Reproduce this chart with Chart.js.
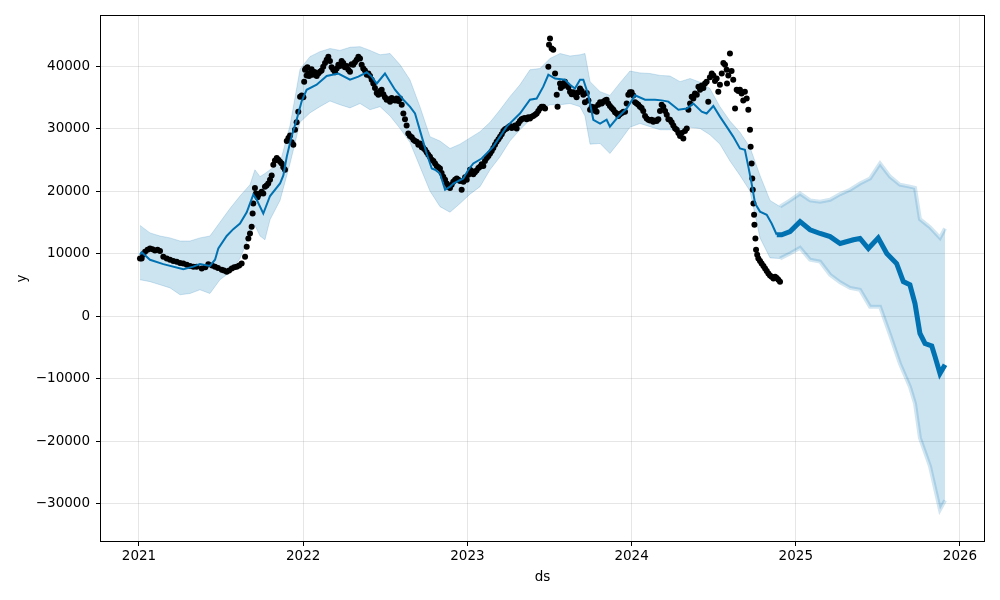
<!DOCTYPE html>
<html>
<head>
<meta charset="utf-8">
<script src="https://cdn.jsdelivr.net/npm/chart.js@4/dist/chart.umd.min.js"></script>
<style>
  html, body { margin: 0; padding: 0; background: #fff; }
  #wrap { width: 1000px; height: 600px; }
</style>
</head>
<body>
<div id="wrap"><canvas id="forecast" width="1000" height="600"></canvas></div>
<script>
// observed points (ds as decimal year, y)
var obsDs = [
  2021.006, 2021.016, 2021.024, 2021.037, 2021.052, 2021.067, 2021.082, 2021.097, 2021.113, 2021.128,
  2021.148, 2021.169, 2021.189, 2021.209, 2021.230, 2021.250, 2021.270, 2021.291, 2021.311, 2021.331,
  2021.351, 2021.382, 2021.404, 2021.422, 2021.445, 2021.463, 2021.481, 2021.504, 2021.518, 2021.534,
  2021.549, 2021.565, 2021.580, 2021.595, 2021.610, 2021.625, 2021.646, 2021.656, 2021.666, 2021.676,
  2021.686, 2021.692, 2021.696, 2021.706, 2021.712, 2021.722, 2021.727, 2021.737, 2021.747, 2021.757,
  2021.767, 2021.777, 2021.787, 2021.798, 2021.808, 2021.818, 2021.828, 2021.839, 2021.849, 2021.859,
  2021.869, 2021.879, 2021.889, 2021.900, 2021.910, 2021.920, 2021.930, 2021.940, 2021.950, 2021.960,
  2021.970, 2021.981, 2021.991, 2022.001, 2022.006, 2022.011, 2022.016, 2022.021, 2022.026, 2022.031,
  2022.036, 2022.041, 2022.051, 2022.057, 2022.062, 2022.072, 2022.082, 2022.092, 2022.102, 2022.112,
  2022.122, 2022.133, 2022.143, 2022.153, 2022.163, 2022.173, 2022.183, 2022.194, 2022.204, 2022.214,
  2022.224, 2022.234, 2022.244, 2022.254, 2022.265, 2022.275, 2022.285, 2022.295, 2022.305, 2022.315,
  2022.326, 2022.336, 2022.346, 2022.356, 2022.366, 2022.376, 2022.387, 2022.397, 2022.407, 2022.417,
  2022.427, 2022.437, 2022.448, 2022.458, 2022.468, 2022.478, 2022.488, 2022.498, 2022.508, 2022.518,
  2022.529, 2022.539, 2022.549, 2022.559, 2022.569, 2022.580, 2022.590, 2022.600, 2022.610, 2022.620,
  2022.630, 2022.640, 2022.650, 2022.661, 2022.671, 2022.681, 2022.691, 2022.701, 2022.711, 2022.722,
  2022.732, 2022.742, 2022.752, 2022.762, 2022.772, 2022.783, 2022.793, 2022.803, 2022.813, 2022.823,
  2022.833, 2022.843, 2022.853, 2022.864, 2022.874, 2022.884, 2022.894, 2022.904, 2022.914, 2022.925,
  2022.935, 2022.945, 2022.955, 2022.965, 2022.976, 2022.986, 2022.996, 2023.006, 2023.016, 2023.026,
  2023.036, 2023.046, 2023.056, 2023.067, 2023.077, 2023.087, 2023.097, 2023.107, 2023.118, 2023.128,
  2023.138, 2023.148, 2023.158, 2023.168, 2023.178, 2023.189, 2023.199, 2023.209, 2023.219, 2023.229,
  2023.239, 2023.249, 2023.259, 2023.270, 2023.280, 2023.290, 2023.300, 2023.310, 2023.320, 2023.330,
  2023.340, 2023.351, 2023.361, 2023.371, 2023.381, 2023.391, 2023.401, 2023.412, 2023.422, 2023.432,
  2023.442, 2023.452, 2023.462, 2023.473, 2023.493, 2023.497, 2023.503, 2023.513, 2023.523, 2023.534,
  2023.544, 2023.549, 2023.564, 2023.569, 2023.574, 2023.584, 2023.594, 2023.604, 2023.615, 2023.625,
  2023.635, 2023.645, 2023.655, 2023.665, 2023.676, 2023.686, 2023.696, 2023.706, 2023.716, 2023.727,
  2023.737, 2023.747, 2023.757, 2023.767, 2023.777, 2023.787, 2023.797, 2023.808, 2023.818, 2023.828,
  2023.838, 2023.848, 2023.858, 2023.868, 2023.879, 2023.889, 2023.899, 2023.909, 2023.919, 2023.929,
  2023.940, 2023.950, 2023.960, 2023.970, 2023.980, 2023.990, 2024.000, 2024.010, 2024.021, 2024.031,
  2024.041, 2024.051, 2024.061, 2024.071, 2024.082, 2024.092, 2024.102, 2024.112, 2024.122, 2024.132,
  2024.143, 2024.153, 2024.163, 2024.173, 2024.183, 2024.193, 2024.204, 2024.214, 2024.224, 2024.234,
  2024.244, 2024.254, 2024.265, 2024.275, 2024.285, 2024.295, 2024.305, 2024.315, 2024.325, 2024.336,
  2024.346, 2024.356, 2024.366, 2024.376, 2024.386, 2024.397, 2024.407, 2024.417, 2024.427, 2024.437,
  2024.447, 2024.457, 2024.467, 2024.477, 2024.488, 2024.498, 2024.508, 2024.518, 2024.528, 2024.538,
  2024.549, 2024.559, 2024.569, 2024.579, 2024.581, 2024.589, 2024.599, 2024.609, 2024.619, 2024.630,
  2024.640, 2024.650, 2024.660, 2024.670, 2024.680, 2024.690, 2024.701, 2024.711, 2024.721, 2024.725,
  2024.731, 2024.735, 2024.738, 2024.742, 2024.746, 2024.748, 2024.754, 2024.758, 2024.765, 2024.772,
  2024.782, 2024.792, 2024.803, 2024.813, 2024.823, 2024.833, 2024.843, 2024.853, 2024.864, 2024.874,
  2024.884, 2024.894, 2024.904];
var obsY = [
  9200, 9200, 9800, 10300, 10600, 10800, 10700, 10500, 10600, 10400,
  9500, 9200, 9000, 8800, 8700, 8500, 8400, 8200, 8000, 7900,
  7900, 7600, 7800, 8300, 8100, 7900, 7700, 7400, 7300, 7100,
  7300, 7600, 7800, 7900, 8100, 8400, 9500, 11100, 12400, 13200,
  14300, 16400, 18000, 20500, 19600, 19000, 19400, 19600, 19900, 19600,
  20700, 20900, 21200, 21800, 22500, 24200, 24900, 25300, 25000, 24700,
  24400, 23800, 23400, 28000, 28500, 28900, 27800, 27400, 29800, 31000,
  32700, 35100, 35300, 35000, 37500, 39400, 39600, 38500, 39800, 38800,
  38400, 38900, 39500, 38600, 39100, 39000, 38400, 38800, 39100, 39300,
  39900, 40500, 41000, 41500, 40800, 39800, 39400, 39000, 39600, 40200,
  40000, 40800, 40500, 39800, 40000, 39400, 39100, 40300, 40200, 40600,
  41000, 41500, 41200, 40200, 39600, 39300, 38600, 38800, 38400, 37800,
  37200, 36500, 35700, 35400, 36000, 36200, 35500, 35000, 34600, 34700,
  34300, 34900, 34600, 34500, 34800, 34400, 34800, 33800, 32400, 31500,
  30500, 29200, 28800, 28600, 28200, 28000, 27900, 27400, 27600, 27000,
  26900, 26600, 26200, 25800, 25500, 25000, 24800, 24400, 24000, 23800,
  23600, 22900, 22300, 21800, 21200, 20700, 20500, 21000, 21500, 21800,
  22000, 21800, 21600, 20200, 21500, 22200, 21800, 22600, 23400, 23200,
  22700, 23000, 23300, 23700, 23900, 24300, 24000, 24800, 25300, 25600,
  26000, 26400, 26900, 27400, 27900, 28300, 28700, 29100, 29600, 29900,
  30000, 30200, 30400, 30100, 30300, 30500, 30000, 30800, 31200, 31500,
  31600, 31700, 31500, 31800, 31600, 31900, 32000, 32200, 32400, 32800,
  33200, 33500, 33500, 33200, 39900, 43400, 44400, 42800, 42600, 38800,
  35400, 33500, 37200, 36500, 37000, 36800, 37500, 37000, 36600, 35900,
  35500, 35800, 35400, 35000, 35800, 36400, 36000, 35400, 34200, 35700,
  34500, 33000, 33500, 32900, 33400, 32700, 33800, 34200, 34000, 34300,
  34500, 34600, 34000, 33600, 33300, 33000, 32600, 32400, 32000, 32300,
  32500, 32700, 32700, 34000, 35400, 35800, 35800, 35300, 34200, 34000,
  33800, 33500, 33300, 32800, 32000, 31600, 31400, 31300, 31400, 31100,
  31300, 31200, 31500, 32800, 33800, 33500, 32800, 32200, 31500, 31400,
  31000, 30500, 30000, 29800, 29300, 28800, 29300, 28400, 29600, 30000,
  33000, 34000, 35100, 34800, 35600, 35400, 36700, 36200, 36900, 36500,
  37200, 37500, 34300, 38200, 38800, 38500, 37600, 38000, 35900, 37000,
  38800, 40500, 40200, 39400, 37200, 38500, 42000, 39200, 37800, 33200,
  36200, 36000, 36200, 35600, 34500, 35900, 34800, 33000, 29800, 27100,
  24400, 22000, 20200, 18000, 16200, 14600, 12400, 10600, 9800, 9200,
  8800, 8400, 8000, 7600, 7200, 6800, 6500, 6300, 6000, 6300,
  6100, 5800, 5500];

// fitted / forecast yhat
var fitDs = [2021.006, 2021.016, 2021.067, 2021.148, 2021.270, 2021.331, 2021.371, 2021.432, 2021.463, 2021.483,
  2021.534, 2021.574, 2021.615, 2021.656, 2021.696, 2021.717, 2021.757, 2021.798, 2021.859, 2021.879,
  2021.900, 2021.930, 2021.960, 2021.991, 2022.021, 2022.082, 2022.143, 2022.214, 2022.285, 2022.336,
  2022.387, 2022.417, 2022.448, 2022.498, 2022.559, 2022.610, 2022.650, 2022.681, 2022.722, 2022.752,
  2022.783, 2022.803, 2022.833, 2022.864, 2022.894, 2022.914, 2022.975, 2023.006, 2023.036, 2023.087,
  2023.158, 2023.239, 2023.320, 2023.381, 2023.422, 2023.462, 2023.493, 2023.534, 2023.594, 2023.625,
  2023.655, 2023.686, 2023.706, 2023.736, 2023.767, 2023.808, 2023.848, 2023.868, 2023.909, 2023.970,
  2024.021, 2024.082, 2024.143, 2024.183, 2024.224, 2024.285, 2024.336, 2024.376, 2024.427, 2024.457,
  2024.498, 2024.538, 2024.579, 2024.619, 2024.660, 2024.690, 2024.711, 2024.731, 2024.752, 2024.782,
  2024.823, 2024.853, 2024.884, 2024.914, 2024.965, 2025.026, 2025.087, 2025.148, 2025.209, 2025.270,
  2025.351, 2025.391, 2025.442, 2025.502, 2025.554, 2025.614, 2025.655, 2025.695, 2025.726, 2025.756,
  2025.787, 2025.828, 2025.848, 2025.878, 2025.909];
var fitY = [9800, 10200, 9000, 8300, 7500, 7900, 8300, 8000, 9000, 10800,
  12800, 13900, 14800, 16600, 19400, 18600, 16400, 19200, 21200, 22500,
  25500, 28800, 31400, 34400, 36200, 37000, 38400, 38800, 37800, 38300,
  39000, 38300, 37200, 38800, 36200, 34600, 33500, 32400, 28700, 26000,
  23600, 23400, 22800, 20200, 20700, 21200, 22000, 23400, 24400, 25200,
  27100, 30300, 32400, 34600, 34800, 36700, 38600, 38000, 37800, 37000,
  36400, 37800, 37800, 35400, 31400, 30800, 31400, 30300, 31600, 33200,
  35300, 34600, 34600, 34500, 34300, 33000, 33200, 34000, 32700, 32400,
  33600, 31900, 30300, 28700, 26800, 26600, 23900, 21200, 18000, 16700,
  16200, 14800, 13000, 13000, 13500, 15100, 13800, 13200, 12700, 11600,
  12200, 12400, 10800, 12500, 10000, 8400, 5500, 5000, 2000, -2800,
  -4400, -4800, -6500, -9200, -7800];

// uncertainty interval
var bandDs = [2021.006, 2021.067, 2021.128, 2021.189, 2021.250, 2021.311, 2021.371, 2021.432, 2021.493, 2021.554,
  2021.615, 2021.676, 2021.706, 2021.737, 2021.767, 2021.798, 2021.859, 2021.920, 2021.981, 2022.041,
  2022.102, 2022.163, 2022.224, 2022.285, 2022.346, 2022.407, 2022.468, 2022.529, 2022.590, 2022.650,
  2022.711, 2022.772, 2022.833, 2022.894, 2022.955, 2023.016, 2023.077, 2023.138, 2023.199, 2023.259,
  2023.320, 2023.381, 2023.442, 2023.503, 2023.564, 2023.625, 2023.686, 2023.716, 2023.747, 2023.808,
  2023.868, 2023.929, 2023.990, 2024.051, 2024.112, 2024.173, 2024.234, 2024.295, 2024.356, 2024.417,
  2024.477, 2024.538, 2024.599, 2024.660, 2024.721, 2024.782, 2024.843, 2024.904, 2024.965, 2025.026,
  2025.087, 2025.148, 2025.209, 2025.270, 2025.331, 2025.391, 2025.452, 2025.513, 2025.574, 2025.634,
  2025.695, 2025.726, 2025.756, 2025.817, 2025.878, 2025.909];
var bandUpper = [14500, 13300, 12800, 12500, 12000, 12000, 12500, 12800, 15000, 17200,
  19200, 21000, 23400, 22300, 22800, 23400, 24500, 30500, 39500, 41500,
  42300, 42800, 42500, 43000, 43100, 42500, 41800, 42000, 40200, 37800,
  33500, 28700, 28000, 26800, 27500, 28500, 29500, 31000, 33000, 35100,
  37000, 39400, 39600, 41200, 42000, 41600, 41800, 42000, 37500, 35900,
  35300, 37300, 39200, 38900, 38800, 38500, 38400, 37500, 38000, 37400,
  36400, 33500, 31200, 29400, 27000, 22500, 18500, 17500, 18500, 19600,
  18500, 18300, 18600, 19500, 20200, 21200, 22000, 24400, 22300, 21000,
  20700, 20500, 15500, 14200, 12500, 14000];
var bandLower = [5800, 5500, 5000, 4500, 3400, 3600, 4200, 3600, 5800, 7000,
  9200, 13000, 14500, 12800, 12200, 15400, 18500, 24400, 31000, 32500,
  33500, 34400, 33800, 33300, 34000, 33000, 33500, 32000, 30000, 27800,
  23900, 20000, 17500, 16600, 18000, 19500, 20700, 23400, 25500, 28000,
  29800, 31400, 33000, 33800, 33800, 34000, 33500, 32000, 27500, 27600,
  26000, 28000, 30200, 30800, 30300, 29800, 29800, 29800, 30200, 30000,
  29000, 27500, 24800, 22500, 20000, 12500, 9300, 9200, 10000, 10900,
  9000, 8700, 6600, 5400, 4500, 4200, 1500, 1500, -3000, -7600,
  -11300, -14000, -19500, -24000, -31000, -29500];

var xTickYears = [2021, 2022, 2023, 2024, 2025, 2026];
var yTickValues = [-30000, -20000, -10000, 0, 10000, 20000, 30000, 40000];
var forecastStart = 2024.884;

function toPoints(xs, ys) {
  return xs.map(function (x, i) { return { x: x, y: ys[i] }; });
}

// matplotlib style frame around the plot area
var frameBox = {
  id: "frameBox",
  afterDraw: function (chart) {
    var a = chart.chartArea;
    var ctx = chart.ctx;
    ctx.save();
    ctx.strokeStyle = "#000";
    ctx.lineWidth = 1;
    ctx.strokeRect(a.left + 0.5, a.top + 0.5, a.right - a.left - 1, a.bottom - a.top - 1);
    ctx.restore();
  }
};

Chart.defaults.font.family = "'DejaVu Sans', sans-serif";
Chart.defaults.font.size = 13.5;
Chart.defaults.color = "#000";

var gridColor = "rgba(128,128,128,0.2)";

new Chart("forecast", {
  type: "line",
  data: {
    datasets: [
      {
        label: "yhat",
        data: toPoints(fitDs, fitY),
        borderColor: "#0072B2",
        borderWidth: 2,
        pointRadius: 0,
        fill: false,
        tension: 0,
        segment: {
          borderWidth: function (ctx) { return ctx.p0.parsed.x >= forecastStart ? 5 : 2; }
        }
      },
      {
        label: "y",
        data: toPoints(obsDs, obsY),
        showLine: false,
        pointRadius: 3,
        pointBackgroundColor: "#000",
        pointBorderWidth: 0,
        borderColor: "#000"
      },
      {
        label: "upper",
        data: toPoints(bandDs, bandUpper),
        borderColor: "rgba(0,114,178,0.18)",
        borderWidth: 1,
        pointRadius: 0,
        fill: false,
        segment: {
          borderWidth: function (ctx) { return ctx.p0.parsed.x >= forecastStart ? 4 : 1; }
        }
      },
      {
        label: "lower",
        data: toPoints(bandDs, bandLower),
        borderColor: "rgba(0,114,178,0.18)",
        borderWidth: 1,
        pointRadius: 0,
        backgroundColor: "rgba(0,114,178,0.2)",
        fill: "-1",
        segment: {
          borderWidth: function (ctx) { return ctx.p0.parsed.x >= forecastStart ? 4 : 1; }
        }
      }
    ]
  },
  options: {
    responsive: false,
    animation: false,
    layout: { padding: { left: 0, top: 15, right: 15, bottom: 0 } },
    plugins: {
      legend: { display: false },
      tooltip: { enabled: false }
    },
    scales: {
      x: {
        type: "linear",
        min: 2020.7625,
        max: 2026.1523,
        afterBuildTicks: function (axis) {
          axis.ticks = xTickYears.map(function (v) { return { value: v }; });
        },
        afterFit: function (axis) { axis.height = 58; },
        ticks: {
          padding: 2,
          maxRotation: 0,
          autoSkip: false,
          callback: function (v) { return String(v); }
        },
        grid: { color: gridColor, tickColor: "#000", tickLength: 4, lineWidth: 1 },
        border: { display: false },
        title: { display: true, text: "ds", padding: { top: 0, bottom: 14 } }
      },
      y: {
        type: "linear",
        min: -36160,
        max: 48160,
        afterBuildTicks: function (axis) {
          axis.ticks = yTickValues.map(function (v) { return { value: v }; });
        },
        afterFit: function (axis) { axis.width = 100; },
        ticks: {
          padding: 6,
          autoSkip: false,
          callback: function (v) { return v < 0 ? "\u2212" + Math.abs(v) : String(v); }
        },
        grid: { color: gridColor, tickColor: "#000", tickLength: 4, lineWidth: 1 },
        border: { display: false },
        title: { display: true, text: "y", padding: { top: 14, bottom: 0 } }
      }
    }
  },
  plugins: [frameBox]
});
</script>
</body>
</html>
